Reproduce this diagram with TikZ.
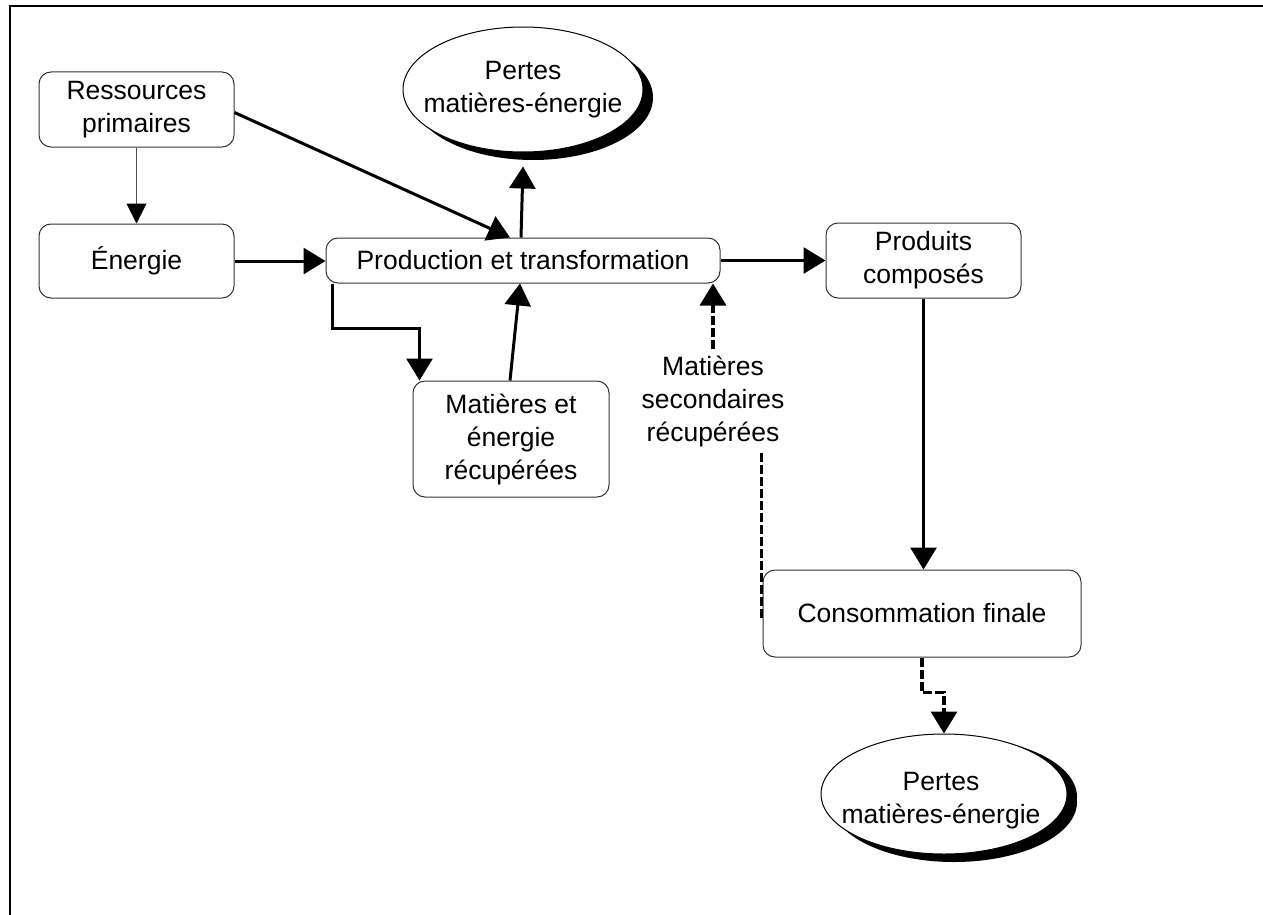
\documentclass[tikz,border=0pt]{standalone}
\usepackage{fontspec}
\setmainfont{Liberation Sans}
\usetikzlibrary{arrows.meta,shapes.geometric,shadows,calc}
\begin{document}
\begin{tikzpicture}[x=0.5pt,y=-0.5pt,
  lab/.style={font=\fontsize{13.25pt}{16.5pt}\selectfont, align=center},
  box/.style={lab, draw=black!80, line width=0.5pt, rounded corners=6pt, fill=white, inner sep=0pt},
  loss/.style={ellipse, draw=black, line width=0.5pt, fill=white, inner sep=0pt,
    drop shadow={shadow xshift=5pt, shadow yshift=-4pt, opacity=1, fill=black}},
  flow/.style={line width=1.5pt, -{Triangle[length=11pt,width=13pt]}},
  thinflow/.style={draw=black!70, line width=0.5pt, -{Triangle[length=10pt,width=10pt,color=black]}},
  dflow/.style={flow, line width=1.75pt, dash pattern=on 4.5pt off 1.5pt},
  dline/.style={line width=1.75pt, dash pattern=on 4.5pt off 1.5pt},
]
\useasboundingbox (0,0) rectangle (1263,915);
% frame
\draw[line width=1pt] (10,915) -- (10,6) -- (1263,6);

% boxes
\node[box, minimum width=97.5pt, minimum height=37.5pt] (res) at (136.5,109.5) {Ressources\\primaires};
\node[box, minimum width=97.5pt, minimum height=37pt] (ene) at (136.5,261) {Énergie};
\node[box, minimum width=197pt, minimum height=22.5pt] (prod) at (523,260.5) {Production et transformation};
\node[box, minimum width=97.5pt, minimum height=37.5pt] (prd) at (923.5,260.5) {Produits\\composés};
\node[box, minimum width=98pt, minimum height=58pt] (mat) at (511,439) {Matières et\\énergie\\récupérées};
\node[lab, inner sep=3pt] (sec) at (713,401) {Matières\\secondaires\\récupérées};
\node[box, minimum width=159pt, minimum height=43.5pt] (cons) at (922,613.5) {Consommation finale};

% loss ellipses
\node[loss, minimum width=120pt, minimum height=62.5pt] (l1) at (523,89.5) {};
\node[lab] (l1t) at (l1) {Pertes\\matières-énergie};
\node[loss, minimum width=123pt, minimum height=60pt,
  drop shadow={shadow xshift=5pt, shadow yshift=-1.5pt, opacity=1, fill=black}] (l2) at (944,794) {};
\node[lab] (l2t) at (941,801) {Pertes\\matières-énergie};

% connectors
\draw[thinflow] (res) -- (ene);
\draw[flow] ($(res.east)+(0,3)$) -- ($(prod.north)+(-13,0)$);
\draw[flow] ($(prod.north)+(-2,0)$) -- ($(l1.south)+(0,14)$);
\draw[flow] (ene.east) -- (ene.east -| prod.west);
\draw[flow] (prod.east) -- (prod.east -| prd.west);
\draw[flow] ($(prod.south west)+(7,0)$) -- ++(0,45) -| ($(mat.north west)+(7,0)$);
\draw[flow] ($(mat.north)+(-1,0)$) -- ($(prod.south)+(-3,0)$);
\draw[dflow] (sec.north) -- (sec.north |- prod.south);
\draw[dline] ($(cons.west |- sec.south)+(-1,0)$) -- ($(cons.west)+(-1,5)$);
\draw[flow] (prd.south) -- (prd.south |- cons.north);
\draw[dflow] (cons.south) -- ++(0,35) -| (l2.north);
\end{tikzpicture}
\end{document}
